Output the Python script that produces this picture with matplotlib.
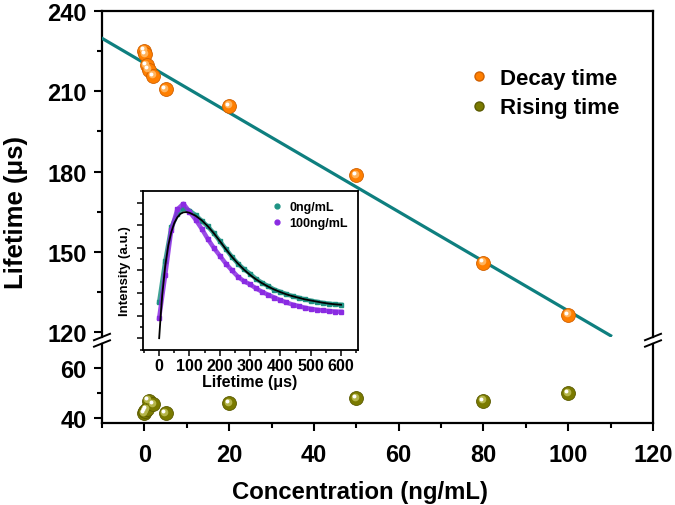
import matplotlib
matplotlib.use("Agg")
import matplotlib.pyplot as plt
from matplotlib.lines import Line2D
from matplotlib.transforms import offset_copy
from matplotlib.ticker import MultipleLocator

plt.rcParams['font.family'] = ['Liberation Sans', 'DejaVu Sans']
plt.rcParams['font.weight'] = 'bold'
plt.rcParams['axes.labelweight'] = 'bold'

# ---------------- data ----------------
concentration = [0, 0.1, 0.5, 1, 2, 5, 20, 50, 80, 100]
decay_time = [225.2, 224.0, 219.8, 218.1, 215.8, 210.9, 204.6, 178.6, 146.0, 126.5]
rising_time = [41.9, 42.6, 43.3, 46.9, 45.3, 41.9, 45.9, 47.8, 46.8, 49.8]
fit_x = [-10, 110]
fit_y = [229.8, 118.7]

# inset decay curves (arb. units)
t_data = [0, 20, 40, 60, 80, 100, 120, 140, 160, 180, 200, 220, 240, 260, 280, 300,
          320, 340, 360, 380, 400, 420, 440, 460, 480, 500, 520, 540, 560, 580, 600]
i_0ng = [1.6, 3.4, 4.9, 5.5, 5.75, 5.65, 5.45, 5.2, 4.95, 4.65, 4.3, 3.95, 3.6, 3.3, 3.05, 2.85,
         2.62, 2.45, 2.3, 2.15, 2.05, 1.95, 1.86, 1.79, 1.72, 1.66, 1.61, 1.56, 1.53, 1.5, 1.48]
i_100ng = [0.9, 2.8, 4.8, 5.7, 5.95, 5.6, 5.25, 4.85, 4.4, 4.0, 3.65, 3.3, 3.0, 2.72, 2.52, 2.38,
           2.2, 2.05, 1.92, 1.8, 1.68, 1.58, 1.49, 1.42, 1.35, 1.3, 1.26, 1.23, 1.2, 1.18, 1.17]
t_fit = [0, 5, 10, 20, 30, 40, 50, 60, 70, 80, 90, 100, 120, 140, 160, 180, 200, 220, 240,
         260, 280, 300, 320, 340, 360, 380, 400, 420, 440, 460, 480, 500, 520, 540, 560, 580, 600]
i_fit = [0.0, 1.0, 1.9, 3.2, 4.1, 4.7, 5.1, 5.35, 5.5, 5.57, 5.58, 5.55, 5.42, 5.22, 4.96, 4.65,
         4.3, 3.94, 3.6, 3.3, 3.03, 2.8, 2.6, 2.43, 2.28, 2.15, 2.04, 1.94, 1.86, 1.79, 1.72,
         1.67, 1.62, 1.57, 1.53, 1.5, 1.48]

W, H = 675, 506
fig = plt.figure(figsize=(W / 100, H / 100), dpi=100)


def fx(px):
    return px / W


def fy(py):
    return 1 - py / H


left, right = 102, 653
top, brk_up, brk_lo, bottom = 12, 338, 344.5, 423.5

ax_u = fig.add_axes([fx(left), fy(brk_up), fx(right) - fx(left), fy(top) - fy(brk_up)])
ax_l = fig.add_axes([fx(left), fy(bottom), fx(right) - fx(left), fy(brk_lo) - fy(bottom)])

ORANGE, ORANGE_L = '#FF7F00', '#FFB35C'
OLIVE, OLIVE_L = '#7A7A00', '#B5B54A'
TEAL = '#0E7F7F'


def spheres(ax, x, y, color, light, dark, ms=10):
    ax.plot(x, y, 'o', ms=ms, color=color, mec=dark, mew=0.6, ls='none', zorder=4, clip_on=False)
    t1 = offset_copy(ax.transData, fig=fig, x=-1.3, y=1.3, units='dots')
    ax.plot(x, y, 'o', ms=ms * 0.55, color=light, mew=0, ls='none', transform=t1, zorder=5, clip_on=False)
    t2 = offset_copy(ax.transData, fig=fig, x=-2.2, y=2.2, units='dots')
    ax.plot(x, y, 'o', ms=ms * 0.28, color='white', mew=0, ls='none', transform=t2, zorder=6, clip_on=False)


for ax in (ax_u, ax_l):
    ax.set_xlim(-10, 120)
    for s in ax.spines.values():
        s.set_linewidth(1.6)
    ax.tick_params(which='both', direction='out', width=1.5, labelsize=17, right=False, top=False)
    ax.tick_params(which='major', length=6)
    ax.tick_params(which='minor', length=3.5)
    ax.tick_params(axis='y', pad=5)

ax_u.set_ylim(118.2, 240)
ax_u.yaxis.set_major_locator(MultipleLocator(30))
ax_u.yaxis.set_minor_locator(MultipleLocator(15))
ax_u.spines['bottom'].set_visible(False)
ax_u.tick_params(axis='x', which='both', bottom=False, labelbottom=False)

ax_l.set_ylim(38, 70)
ax_l.set_yticks([40, 60])
ax_l.set_yticks([50], minor=True)
ax_l.spines['top'].set_visible(False)
ax_l.xaxis.set_major_locator(MultipleLocator(20))
ax_l.xaxis.set_minor_locator(MultipleLocator(10))
ax_l.tick_params(axis='x', pad=9)

ax_u.plot(fit_x, fit_y, color=TEAL, lw=2.3, zorder=3)
spheres(ax_u, concentration, decay_time, ORANGE, ORANGE_L, '#D06000')
spheres(ax_l, concentration, rising_time, OLIVE, OLIVE_L, '#5A5A00')

fig.text(fx(360), fy(493), 'Concentration (ng/mL)', ha='center', va='center',
         fontsize=17.2, fontweight='bold')
fig.text(fx(16), 0.58, 'Lifetime (\u03bcs)', rotation=90, ha='center', va='center',
         fontsize=18.5, fontweight='bold')

# legend
handles = [Line2D([], [], marker='o', ls='none', ms=6.5, color=ORANGE, mec='#D06000'),
           Line2D([], [], marker='o', ls='none', ms=6.5, color=OLIVE, mec='#5A5A00')]
fig.legend(handles, ['Decay time', 'Rising time'], loc='upper left',
           bbox_to_anchor=(fx(446), fy(49)), frameon=False, fontsize=16,
           handletextpad=0.35, labelspacing=0.38, handlelength=1.2)

# break marks
for xc in (left, right):
    for yc in (brk_up, brk_lo):
        fig.add_artist(Line2D([fx(xc - 8), fx(xc + 8)], [fy(yc + 3.2), fy(yc - 3.2)],
                              transform=fig.transFigure, color='black', lw=1.4))

# ---------------- inset ----------------
axi = fig.add_axes([fx(142.5), fy(350.5), fx(357.7) - fx(142.5), fy(192.3) - fy(350.5)])
axi.set_xlim(-55, 655)
axi.set_ylim(-0.5, 6.5)
for s in axi.spines.values():
    s.set_linewidth(1.3)
C0, C1 = '#1F9384', '#8A2BE2'
axi.plot(t_data, i_0ng, color=C0, lw=3.2, alpha=0.85, zorder=2)
axi.plot(t_data, i_0ng, 's', color=C0, ms=2.5, zorder=2)
axi.plot(t_data, i_100ng, color=C1, lw=3.2, alpha=0.85, zorder=2)
axi.plot(t_data, i_100ng, 's', color=C1, ms=2.5, zorder=2)
axi.plot(t_fit, i_fit, color='black', lw=1.3, zorder=3)
axi.xaxis.set_major_locator(MultipleLocator(100))
axi.xaxis.set_minor_locator(MultipleLocator(50))
axi.yaxis.set_major_locator(MultipleLocator(1))
axi.yaxis.set_minor_locator(MultipleLocator(0.5))
axi.tick_params(which='both', direction='out', width=1.1, labelsize=11.5, top=False, right=False,
                labelleft=False, pad=2)
axi.tick_params(which='major', length=4)
axi.tick_params(which='minor', length=2.5)
axi.set_xlabel('Lifetime (\u03bcs)', fontsize=11.5, fontweight='bold', labelpad=1)
axi.set_ylabel('Intensity (a.u.)', fontsize=9.5, fontweight='bold', labelpad=4)
ih = [Line2D([], [], marker='o', ls='none', ms=3.5, color=C0),
      Line2D([], [], marker='o', ls='none', ms=3.5, color=C1)]
axi.legend(ih, ['0ng/mL', '100ng/mL'], loc='upper right', frameon=False, fontsize=9,
           handletextpad=0.5, handlelength=1.0, labelspacing=0.3, borderaxespad=0.4)

fig.savefig('out.png', dpi=100)
